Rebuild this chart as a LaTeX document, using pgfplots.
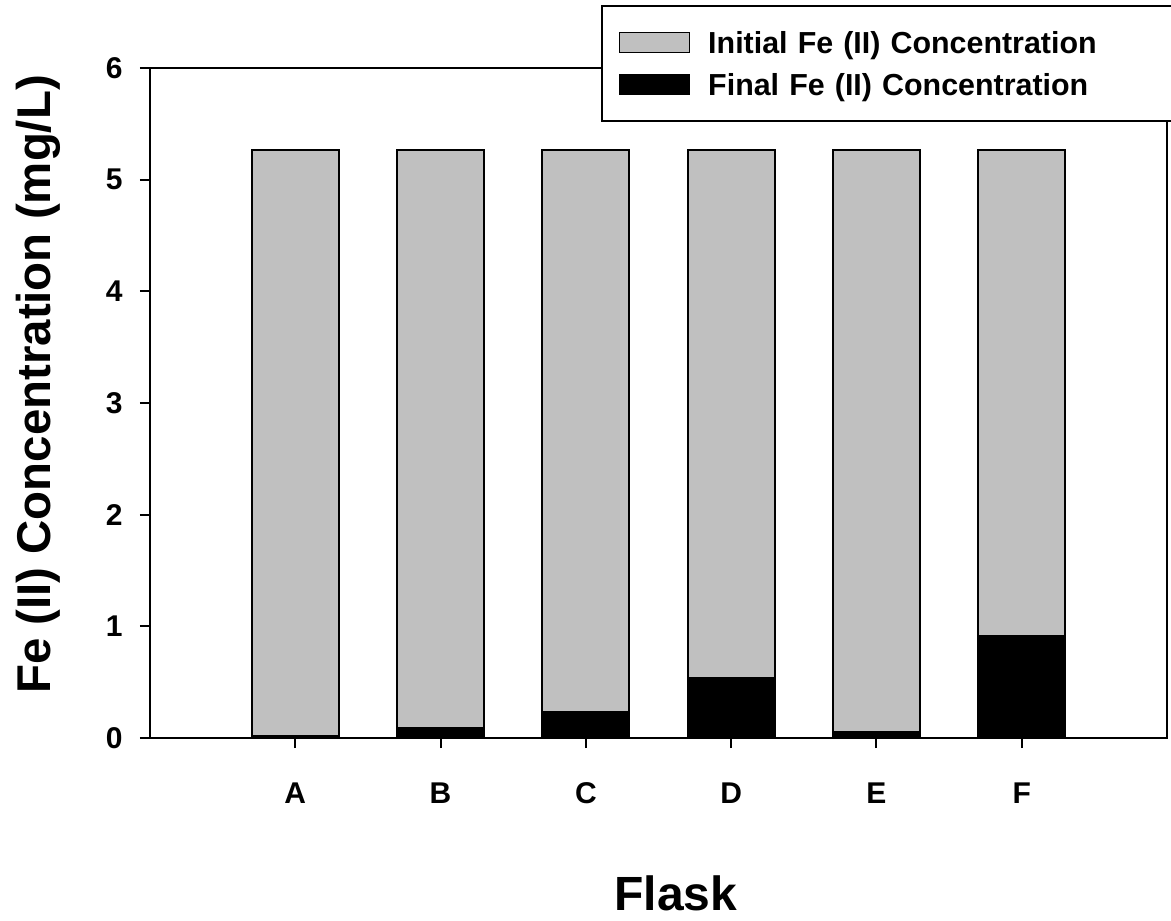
\documentclass[border=0pt]{standalone}
\usepackage{fontspec}
\setmainfont{Liberation Sans}
\usepackage{pgfplots}
\pgfplotsset{compat=1.18}
\definecolor{initgray}{RGB}{192,192,192}

\begin{document}
\begin{tikzpicture}
\begin{axis}[
  name=ax,
  scale only axis, width=508.5pt, height=335pt,
  xmin=0, xmax=7, ymin=0, ymax=6,
  xtick={1,2,3,4,5,6}, xticklabels={A,B,C,D,E,F},
  ytick={0,1,2,3,4,5,6},
  tick pos=left, tick align=outside,
  major tick length=5pt,
  axis line style={line width=1pt},
  every tick/.style={line width=1pt, black},
  /pgf/number format/assume math mode=true,
  yticklabel style={font=\fontsize{15pt}{18pt}\selectfont\bfseries, inner sep=0pt, anchor=east, xshift=-8.5pt},
  xticklabel style={font=\fontsize{15pt}{18pt}\selectfont\bfseries, inner sep=0pt, anchor=base, yshift=-27.5pt},
  xlabel={Flask},
  ylabel={Fe (II) Concentration (mg/L)},
  xlabel style={font=\fontsize{24pt}{28pt}\selectfont\bfseries, at={(rel axis cs:0.517,-0.258)}, anchor=base, inner sep=0pt},
  ylabel style={font=\fontsize{23.7pt}{28pt}\selectfont\bfseries, at={(rel axis cs:-0.0983,0.5276)}, anchor=base, rotate=0, inner sep=0pt},
  legend image code/.code={\draw[#1, line width=0.6pt] (0pt,-5pt) rectangle (35pt,5pt);},
  legend style={at={(rel axis cs:0.4435,1.094)}, anchor=north west,
    draw=black, line width=1pt, fill=white,
    font=\fontsize{15.2pt}{18pt}\selectfont\bfseries,
    inner xsep=8.5pt, inner ysep=11pt, row sep=6.5pt, column sep=9pt,
    cells={anchor=west},
    nodes={inner sep=0pt, text height=12.5pt, text depth=2pt, text width=240pt, align=left}},
]
% initial concentration, drawn first so the final bars sit in front
\addplot[ybar, bar width=0.6, bar shift=0pt, fill=initgray, draw=black, line width=1pt]
  coordinates {(1,5.27) (2,5.27) (3,5.27) (4,5.27) (5,5.27) (6,5.27)};
\addlegendentry{Initial Fe (II) Concentration}
% final concentration
\addplot[ybar, bar width=0.6, bar shift=0pt, fill=black, draw=black, line width=1pt]
  coordinates {(1,0.02) (2,0.087) (3,0.235) (4,0.54) (5,0.056) (6,0.913)};
\addlegendentry{Final Fe (II) Concentration}
\end{axis}
% page: 150px margin left of the axis box, 182px below it
\pgfresetboundingbox
\path (ax.south west) ++(-75pt,-91pt) rectangle ++(585.5pt,460pt);
\end{tikzpicture}
\end{document}
